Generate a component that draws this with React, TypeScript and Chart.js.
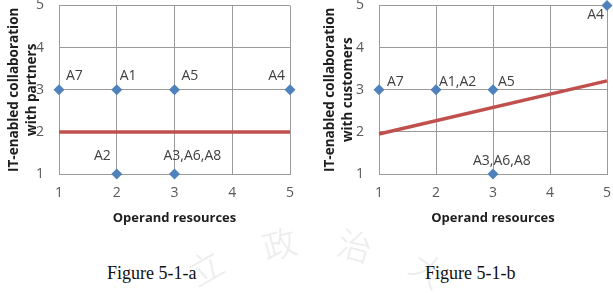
import { useEffect, useRef } from 'react';
import { Chart, registerables } from 'chart.js';

Chart.register(...registerables);

// ---------- data ----------
const axisMin = 1;
const axisMax = 5;
const xAxisTitle = 'Operand resources';

// Figure 5-1-a
const aYTitle = ['IT-enabled collaboration', 'with partners'];
const aX = [1, 2, 3, 5, 2, 3];
const aY = [3, 3, 3, 3, 1, 1];
const aLabels = ['A7', 'A1', 'A5', 'A4', 'A2', 'A3,A6,A8'];
const aTrendX = [1, 5];
const aTrendY = [2.0, 2.0];

// Figure 5-1-b
const bYTitle = ['IT-enabled collaboration', 'with customers'];
const bX = [1, 2, 3, 5, 3];
const bY = [3, 3, 3, 5, 1];
const bLabels = ['A7', 'A1,A2', 'A5', 'A4', 'A3,A6,A8'];
const bTrendX = [1, 5];
const bTrendY = [1.95, 3.21];

const captions = ['Figure 5-1-a', 'Figure 5-1-b'];

// ---------- layout (label offsets in px, not data) ----------
type Off = [number, number, CanvasTextAlign];
const aLabelOffsets: Off[] = [
  [7, -14, 'left'],
  [3, -14, 'left'],
  [7, -14, 'left'],
  [-5, -14, 'right'],
  [-6, -18, 'right'],
  [-11, -18, 'left'],
];
const bLabelOffsets: Off[] = [
  [8, -8, 'left'],
  [3, -8, 'left'],
  [5, -8, 'left'],
  [-3, 10, 'right'],
  [-20, -13, 'left'],
];

const FONT = '"Open Sans", "DejaVu Sans", sans-serif';
const BLUE = '#4F81BD';
const RED = '#C0504D';
const GRID = '#9a9a9a';

interface PanelProps {
  xs: number[];
  ys: number[];
  labels: string[];
  offsets: Off[];
  trendX: number[];
  trendY: number[];
  yTitle: string[];
  left: number;
  width: number;
  yAxisWidth: number;
  padRight: number;
}

const labelPlugin = {
  id: 'pointLabels',
  afterDatasetsDraw(chart: any) {
    const opts = chart.options.plugins.pointLabels;
    if (!opts) return;
    const meta = chart.getDatasetMeta(0);
    const ctx = chart.ctx;
    ctx.save();
    ctx.font = `14px ${FONT}`;
    ctx.fillStyle = '#404040';
    ctx.textBaseline = 'middle';
    meta.data.forEach((pt: any, i: number) => {
      const off = opts.offsets[i];
      ctx.textAlign = off[2];
      ctx.fillText(opts.labels[i], pt.x + off[0], pt.y + off[1]);
    });
    ctx.restore();
  },
};

function Panel(p: PanelProps) {
  const ref = useRef<HTMLCanvasElement>(null);
  useEffect(() => {
    if (!ref.current) return;
    const points = p.xs.map((x, i) => ({ x, y: p.ys[i] }));
    const trend = p.trendX.map((x, i) => ({ x, y: p.trendY[i] }));
    const chart = new Chart(ref.current, {
      type: 'scatter',
      data: {
        datasets: [
          {
            data: points,
            pointStyle: 'rectRot',
            pointRadius: 5.5,
            pointBackgroundColor: BLUE,
            pointBorderColor: BLUE,
            pointBorderWidth: 0,
            clip: false as any,
          },
          {
            type: 'line' as any,
            data: trend,
            borderColor: RED,
            borderWidth: 3.5,
            pointRadius: 0,
            showLine: true,
            fill: false,
            clip: false as any,
          },
        ],
      },
      options: {
        responsive: false,
        animation: false,
        events: [],
        layout: { padding: { top: 5, right: p.padRight, left: 0, bottom: 0 } },
        plugins: {
          legend: { display: false },
          tooltip: { enabled: false },
          pointLabels: { labels: p.labels, offsets: p.offsets },
        } as any,
        scales: {
          x: {
            type: 'linear',
            min: axisMin,
            max: axisMax,
            ticks: {
              stepSize: 1,
              padding: 11,
              color: '#595959',
              font: { family: FONT, size: 14 },
            },
            grid: { color: GRID, drawTicks: false },
            border: { color: GRID },
            title: {
              display: true,
              text: xAxisTitle,
              color: '#1e1e1e',
              font: { family: FONT, size: 13, weight: 'bold' },
              padding: { top: 0, bottom: 6 },
            },
            afterFit: (s: any) => {
              s.height = 58;
              s.paddingLeft = 0;
              s.paddingRight = 0;
            },
          },
          y: {
            type: 'linear',
            min: axisMin,
            max: axisMax,
            ticks: {
              stepSize: 1,
              padding: 15,
              color: '#595959',
              font: { family: FONT, size: 14 },
            },
            grid: { color: GRID, drawTicks: false },
            border: { color: GRID },
            title: {
              display: true,
              text: p.yTitle,
              color: '#1e1e1e',
              font: { family: FONT, size: 13.5, weight: 'bold', lineHeight: '18px' as any },
              padding: { top: 5, bottom: 0 },
            },
            afterFit: (s: any) => {
              s.width = p.yAxisWidth;
              s.paddingTop = 0;
              s.paddingBottom = 0;
            },
          },
        },
      } as any,
      plugins: [labelPlugin],
    });
    return () => chart.destroy();
  }, []);
  return (
    <canvas
      ref={ref}
      width={p.width}
      height={232}
      style={{ position: 'absolute', left: p.left, top: 0, width: p.width, height: 232 }}
    />
  );
}

const watermark = [
  { ch: '立', x: 188, y: 250, r: -30 },
  { ch: '政', x: 262, y: 226, r: -15 },
  { ch: '治', x: 338, y: 228, r: 15 },
  { ch: '大', x: 412, y: 252, r: 35 },
];

export default function App() {
  useEffect(() => {
    document.body.style.margin = '0';
    document.body.style.background = '#fff';
  }, []);
  return (
    <div style={{ position: 'relative', width: 613, height: 294, overflow: 'hidden', background: '#fff' }}>
      {watermark.map((w, i) => (
        <div
          key={i}
          style={{
            position: 'absolute',
            left: w.x,
            top: w.y,
            fontFamily: '"Noto Sans CJK TC", sans-serif',
            fontSize: 34,
            fontWeight: 300,
            color: '#ececec',
            transform: `rotate(${w.r}deg)`,
            lineHeight: 1,
          }}
        >
          {w.ch}
        </div>
      ))}
      <Panel
        xs={aX}
        ys={aY}
        labels={aLabels}
        offsets={aLabelOffsets}
        trendX={aTrendX}
        trendY={aTrendY}
        yTitle={aYTitle}
        left={0}
        width={300}
        yAxisWidth={59}
        padRight={10}
      />
      <Panel
        xs={bX}
        ys={bY}
        labels={bLabels}
        offsets={bLabelOffsets}
        trendX={bTrendX}
        trendY={bTrendY}
        yTitle={bYTitle}
        left={316}
        width={297}
        yAxisWidth={63}
        padRight={6}
      />
      <div
        style={{
          position: 'absolute',
          left: 107,
          top: 263,
          fontFamily: '"Liberation Serif", "Times New Roman", serif',
          fontSize: 18,
          color: '#111',
          whiteSpace: 'nowrap',
        }}
      >
        {captions[0]}
      </div>
      <div
        style={{
          position: 'absolute',
          left: 425,
          top: 263,
          fontFamily: '"Liberation Serif", "Times New Roman", serif',
          fontSize: 18,
          color: '#111',
          whiteSpace: 'nowrap',
        }}
      >
        {captions[1]}
      </div>
    </div>
  );
}
